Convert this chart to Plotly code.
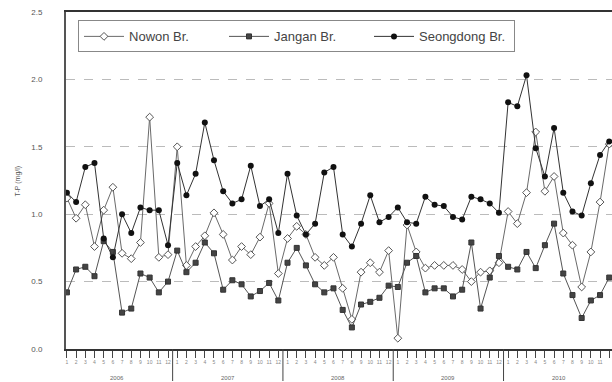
import plotly.graph_objects as go

# Monthly total phosphorus, Jan 2006 - Dec 2010
years = ["2006", "2007", "2008", "2009", "2010"]
months = [str(m) for m in range(1, 13)]

nowon = [1.12, 0.97, 1.07, 0.76, 1.03, 1.20, 0.71, 0.67, 0.79, 1.72,
         0.68, 0.70, 1.50, 0.62, 0.76, 0.84, 1.01, 0.85, 0.66, 0.76,
         0.70, 0.83, 1.08, 0.56, 0.82, 0.91, 0.85, 0.68, 0.62, 0.68,
         0.45, 0.22, 0.57, 0.64, 0.57, 0.73, 0.08, 0.92, 0.72, 0.60,
         0.62, 0.62, 0.62, 0.59, 0.50, 0.57, 0.58, 0.64, 1.02, 0.93,
         1.16, 1.61, 1.17, 1.28, 0.86, 0.77, 0.46, 0.72, 1.09, 1.52]

jangan = [0.42, 0.59, 0.61, 0.54, 0.80, 0.72, 0.27, 0.30, 0.56, 0.53,
          0.42, 0.50, 0.73, 0.57, 0.64, 0.79, 0.71, 0.44, 0.51, 0.48,
          0.39, 0.43, 0.49, 0.36, 0.64, 0.75, 0.62, 0.48, 0.42, 0.45,
          0.29, 0.16, 0.33, 0.35, 0.38, 0.47, 0.46, 0.64, 0.69, 0.42,
          0.45, 0.45, 0.39, 0.44, 0.79, 0.30, 0.53, 0.69, 0.61, 0.59,
          0.72, 0.60, 0.77, 0.93, 0.56, 0.40, 0.23, 0.36, 0.40, 0.53]

seongdong = [1.16, 1.09, 1.35, 1.38, 0.82, 0.68, 1.00, 0.86, 1.05, 1.03,
             1.03, 0.77, 1.38, 1.14, 1.30, 1.68, 1.40, 1.17, 1.08, 1.11,
             1.36, 1.06, 1.11, 0.86, 1.30, 0.99, 0.85, 0.93, 1.31, 1.35,
             0.85, 0.76, 0.93, 1.14, 0.94, 0.98, 1.05, 0.94, 0.93, 1.13,
             1.07, 1.06, 0.98, 0.96, 1.13, 1.11, 1.08, 1.01, 1.83, 1.80,
             2.03, 1.49, 1.28, 1.64, 1.16, 1.02, 0.99, 1.23, 1.44, 1.54]

n = len(nowon)
x = list(range(n))
FONT = "Liberation Sans, Arial, sans-serif"

fig = go.Figure()
fig.add_trace(go.Scatter(
    x=x, y=nowon, name="Nowon Br.", mode="lines+markers",
    line=dict(color="#6a6a6a", width=1),
    marker=dict(symbol="diamond", size=6, color="white",
                line=dict(color="#555555", width=1))))
fig.add_trace(go.Scatter(
    x=x, y=jangan, name="Jangan Br.", mode="lines+markers",
    line=dict(color="#555555", width=1),
    marker=dict(symbol="square", size=5, color="#444444",
                line=dict(color="#333333", width=1))))
fig.add_trace(go.Scatter(
    x=x, y=seongdong, name="Seongdong Br.", mode="lines+markers",
    line=dict(color="#333333", width=1),
    marker=dict(symbol="circle", size=6, color="#111111")))

# year separators below the axis and year captions
shapes = []
annotations = []
for k, yr in enumerate(years):
    xb = 12 * k - 0.5
    shapes.append(dict(type="line", xref="x", yref="paper",
                       x0=xb, x1=xb, y0=0, y1=-0.095,
                       line=dict(color="#444444", width=1)))
    annotations.append(dict(x=12 * k + 5.5, y=-0.07, xref="x", yref="paper",
                            yanchor="top", text=yr, showarrow=False,
                            font=dict(size=6, color="#666666", family=FONT)))

annotations.append(dict(x=-0.099, y=0.5, xref="paper", yref="paper",
                        text="T-P (mg/l)", textangle=-90, showarrow=False,
                        font=dict(size=7, color="#555555", family=FONT)))

fig.update_layout(
    width=612, height=382,
    margin=dict(l=66, r=0, t=12, b=33),
    paper_bgcolor="white", plot_bgcolor="white",
    font=dict(family=FONT, color="#444444"),
    showlegend=True,
    legend=dict(orientation="h", x=0.022, y=0.975, xanchor="left", yanchor="top",
                bgcolor="white", bordercolor="#888888", borderwidth=1,
                font=dict(size=13, color="#444444", family=FONT),
                itemwidth=40, entrywidth=90, entrywidthmode="pixels",
                tracegroupgap=0),
    shapes=shapes,
    annotations=annotations,
)
fig.update_xaxes(
    range=[-0.1, 59.3], tickmode="array", tickvals=x,
    ticktext=[months[i % 12] for i in x],
    tickfont=dict(size=5, color="#888888"),
    ticks="outside", ticklen=7, tickcolor="#444444", tickwidth=1,
    showline=True, linecolor="#333333", linewidth=2, mirror=True,
    showgrid=False, zeroline=False)
fig.update_yaxes(
    range=[0, 2.5], tickvals=[0, 0.5, 1.0, 1.5, 2.0, 2.5],
    ticktext=["0.0", "0.5", "1.0", "1.5", "2.0", "2.5"],
    tickfont=dict(size=8, color="#555555", family=FONT),
    ticklabelstandoff=20,
    showline=True, linecolor="#555555", linewidth=2, mirror=False,
    showgrid=True, gridcolor="#bbbbbb", griddash="dash", gridwidth=1,
    zeroline=False)

fig.write_html("out.html")
